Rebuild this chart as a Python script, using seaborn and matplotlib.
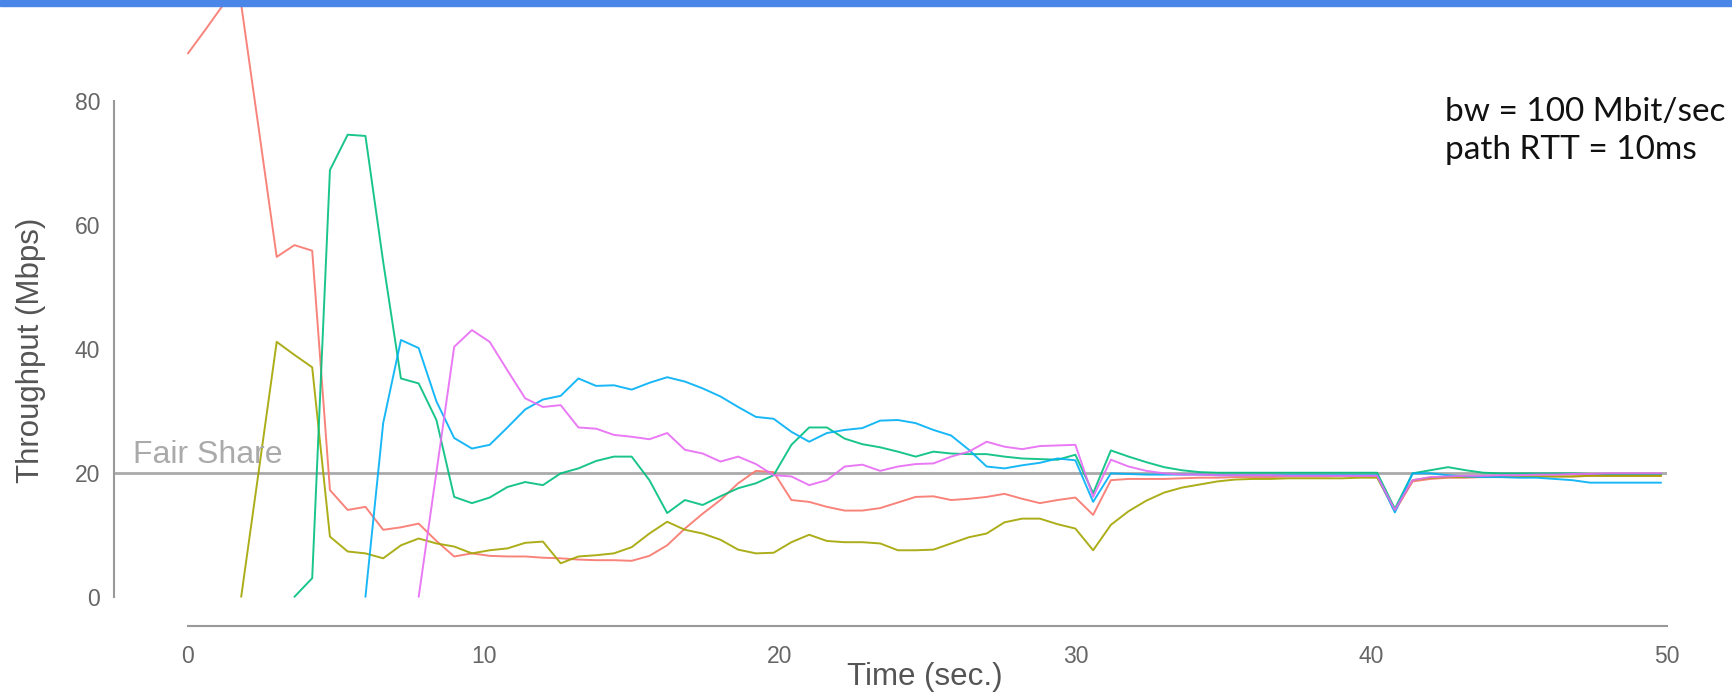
import numpy as np
import pandas as pd
import matplotlib
matplotlib.use("Agg")
import matplotlib.pyplot as plt
from matplotlib.patches import Rectangle
import seaborn as sns

step = 0.6  # sample interval (sec.)

flowNames = ["flow1", "flow2", "flow3", "flow4", "flow5"]
flowStartIdx = [0, 3, 6, 10, 13]
flowColors = ["#F8766D", "#A3A500", "#00BF7D", "#00B0F6", "#E76BF3"]

flow1 = [87.6, 91.5, 95.5, 95.5, 75.2, 54.8, 56.7, 55.8, 17.2, 14.0,
         14.5, 10.8, 11.2, 11.8, 9.0, 6.5, 7.0, 6.6, 6.5, 6.5,
         6.3, 6.2, 6.0, 5.9, 5.9, 5.8, 6.6, 8.3, 11.0, 13.4,
         15.6, 18.3, 20.3, 20.1, 15.6, 15.3, 14.5, 13.9, 13.9, 14.3,
         15.2, 16.1, 16.2, 15.6, 15.8, 16.1, 16.6, 15.8, 15.1, 15.6,
         16.0, 13.2, 18.8, 19.0, 19.0, 19.0, 19.1, 19.2, 19.2, 19.3,
         19.3, 19.3, 19.4, 19.4, 19.4, 19.5, 19.5, 19.4, 13.8, 18.6,
         19.0, 19.2, 19.2, 19.3, 19.3, 19.3, 19.4, 19.4, 19.4, 19.5,
         19.5, 19.5, 19.5, 19.5]
flow2 = [0.0, 20.5, 41.1, 39.0, 37.0, 9.7, 7.3, 7.0, 6.2, 8.3,
         9.4, 8.6, 8.1, 7.0, 7.5, 7.8, 8.7, 8.9, 5.4, 6.5,
         6.7, 7.0, 8.0, 10.2, 12.1, 10.8, 10.2, 9.2, 7.6, 7.0,
         7.1, 8.8, 10.0, 9.0, 8.8, 8.8, 8.6, 7.5, 7.5, 7.6,
         8.6, 9.6, 10.2, 12.0, 12.6, 12.6, 11.7, 11.0, 7.5, 11.6,
         13.8, 15.5, 16.8, 17.6, 18.1, 18.6, 18.9, 19.0, 19.0, 19.1,
         19.1, 19.1, 19.1, 19.2, 19.2, 14.0, 18.8, 19.2, 19.3, 19.3,
         19.4, 19.4, 19.4, 19.4, 19.4, 19.4, 19.5, 19.5, 19.5, 19.5,
         19.5]
flow3 = [0.0, 3.0, 68.8, 74.5, 74.3, 54.0, 35.2, 34.4, 28.5, 16.1,
         15.1, 16.0, 17.7, 18.5, 18.0, 19.9, 20.7, 21.9, 22.6, 22.6,
         18.8, 13.5, 15.6, 14.8, 16.2, 17.5, 18.3, 19.6, 24.5, 27.3,
         27.3, 25.5, 24.6, 24.1, 23.4, 22.6, 23.4, 23.1, 23.0, 23.0,
         22.6, 22.3, 22.2, 22.1, 22.9, 16.7, 23.6, 22.6, 21.7, 20.9,
         20.4, 20.1, 20.0, 20.0, 20.0, 20.0, 20.0, 20.0, 20.0, 20.0,
         20.0, 20.0, 14.2, 19.9, 20.4, 20.9, 20.4, 20.0, 19.9, 19.9,
         19.9, 19.9, 19.9, 19.8, 19.8, 19.8, 19.8, 19.8]
flow4 = [0.0, 28.0, 41.4, 40.1, 31.5, 25.6, 23.9, 24.5, 27.3, 30.2,
         31.8, 32.4, 35.2, 34.0, 34.1, 33.4, 34.5, 35.4, 34.7, 33.6,
         32.3, 30.6, 29.0, 28.7, 26.6, 25.0, 26.4, 26.9, 27.2, 28.4,
         28.5, 28.0, 26.9, 26.0, 23.7, 21.0, 20.7, 21.2, 21.6, 22.3,
         22.0, 15.3, 19.9, 19.8, 19.7, 19.7, 19.7, 19.7, 19.6, 19.6,
         19.6, 19.6, 19.6, 19.6, 19.6, 19.6, 19.6, 19.6, 13.6, 19.9,
         19.9, 19.6, 19.4, 19.3, 19.3, 19.2, 19.2, 19.0, 18.8, 18.4,
         18.4, 18.4, 18.4, 18.4]
flow5 = [0.0, 20.1, 40.3, 43.0, 41.1, 36.5, 32.0, 30.6, 30.9, 27.3,
         27.1, 26.1, 25.8, 25.4, 26.4, 23.7, 23.1, 21.8, 22.6, 21.4,
         19.6, 19.4, 18.0, 18.8, 21.0, 21.3, 20.3, 21.0, 21.4, 21.5,
         22.6, 23.4, 25.0, 24.2, 23.8, 24.3, 24.4, 24.5, 16.1, 22.1,
         21.0, 20.3, 19.9, 19.7, 19.7, 19.6, 19.6, 19.6, 19.6, 19.5,
         19.5, 19.5, 19.5, 19.5, 19.5, 14.0, 18.8, 19.3, 19.4, 19.5,
         19.5, 19.6, 19.6, 19.7, 19.7, 19.8, 19.8, 19.9, 19.9, 19.9,
         19.9]
flowValues = [flow1, flow2, flow3, flow4, flow5]

fairShare = 20
xTicks = [0, 10, 20, 30, 40, 50]
yTicks = [0, 20, 40, 60, 80]
noteLines = ["bw = 100 Mbit/sec", "path RTT = 10ms"]


def buildFrame():
    frames = []
    for name, startIdx, values in zip(flowNames, flowStartIdx, flowValues):
        t = (startIdx + np.arange(len(values))) * step
        frames.append(pd.DataFrame({"time": t, "throughput": values, "flow": name}))
    return pd.concat(frames, ignore_index=True)


df = buildFrame()

sns.set_style("white")
plt.rcParams["font.family"] = ["Liberation Sans", "DejaVu Sans"]

W, H = 1733, 700
fig = plt.figure(figsize=(W / 100, H / 100), dpi=100)
axLeft, axRight, axBottom, axTop = 114, 1667, 626, 6
ax = fig.add_axes([axLeft / W, 1 - axBottom / H, (axRight - axLeft) / W, (axBottom - axTop) / H])

ax.axhline(fairShare, color="#aaaaaa", lw=2, zorder=1)
ax.text(-1.85, 21.6, "Fair Share", color="#aaaaaa", fontsize=23, va="baseline", ha="left")

sns.lineplot(data=df, x="time", y="throughput", hue="flow", palette=flowColors,
             hue_order=flowNames, legend=False, linewidth=1.4, alpha=0.9, ax=ax, zorder=2)

ax.set_xlim(-2.5, 50)
ax.set_ylim(-4.71, 95.25)
ax.set_xticks(xTicks)
ax.set_yticks(yTicks)

for side in ["top", "right"]:
    ax.spines[side].set_visible(False)
ax.spines["left"].set_bounds(0, 80)
ax.spines["bottom"].set_bounds(0, 50)
for side in ["left", "bottom"]:
    ax.spines[side].set_color("#999999")
    ax.spines[side].set_linewidth(1.5)
ax.tick_params(axis="both", direction="out", length=6, width=1.2, color="#999999",
               labelcolor="#666666", labelsize=16.5)
ax.tick_params(axis="x", pad=8)
ax.tick_params(axis="y", pad=4)

ax.set_xlabel("Time (sec.)", fontsize=22.5, color="#555555")
ax.set_ylabel("Throughput (Mbps)", fontsize=22.5, color="#555555")
ax.xaxis.set_label_coords((925 - axLeft) / (axRight - axLeft), (axBottom - 677) / (axBottom - axTop))
ax.yaxis.set_label_coords((31 - axLeft) / (axRight - axLeft), (axBottom - 350) / (axBottom - axTop))
ax.xaxis.label.set_va("center")
ax.yaxis.label.set_va("center")

fig.add_artist(Rectangle((0, 1 - 6 / H), 1, 6 / H, transform=fig.transFigure,
                         color="#4a86e8", zorder=10))
fig.text(1445 / W, 1 - 112 / H, noteLines[0], fontsize=24, family=["Lato", "DejaVu Sans"],
         color="#111111", va="center", ha="left")
fig.text(1445 / W, 1 - 150 / H, noteLines[1], fontsize=24, family=["Lato", "DejaVu Sans"],
         color="#111111", va="center", ha="left")

fig.savefig("out.png", dpi=100)
